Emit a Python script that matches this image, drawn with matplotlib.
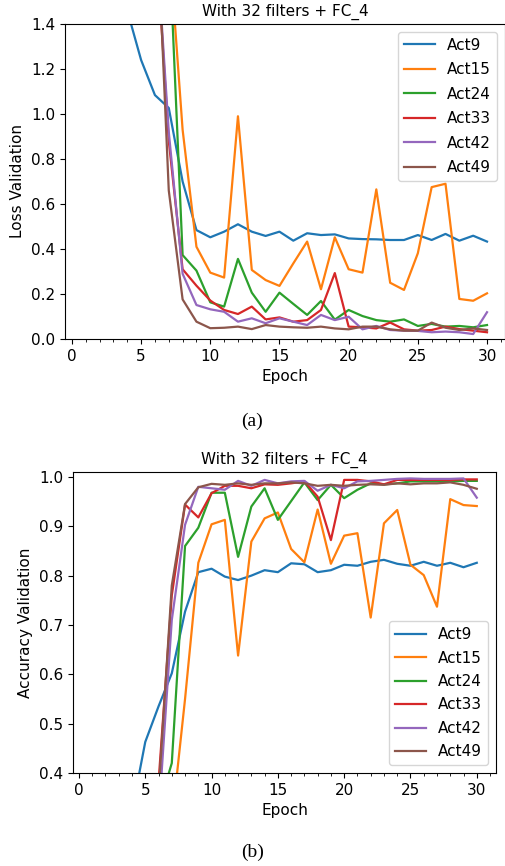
import matplotlib
matplotlib.use("Agg")
import matplotlib.pyplot as plt
from matplotlib.ticker import MultipleLocator

epochs = list(range(1, 31))
series_names = ["Act9", "Act15", "Act24", "Act33", "Act42", "Act49"]
title_text = "With 32 filters + FC_4"

loss_act9 = [1.90, 1.75, 1.60, 1.46, 1.24, 1.084, 1.027, 0.70, 0.484, 0.452,
             0.477, 0.51, 0.477, 0.458, 0.477, 0.437, 0.47, 0.462, 0.465, 0.447,
             0.444, 0.443, 0.44, 0.44, 0.462, 0.44, 0.467, 0.437, 0.459, 0.433]
loss_act15 = [2.3, 2.2, 2.1, 2.0, 1.95, 1.9, 1.78, 0.93, 0.41, 0.295,
              0.273, 0.99, 0.307, 0.262, 0.236, 0.336, 0.433, 0.221, 0.452, 0.31,
              0.295, 0.665, 0.25, 0.218, 0.381, 0.675, 0.69, 0.178, 0.17, 0.203]
loss_act24 = [2.2, 2.1, 2.05, 2.0, 1.95, 1.9, 1.80, 0.373, 0.304, 0.163,
              0.144, 0.356, 0.206, 0.121, 0.206, 0.156, 0.107, 0.169, 0.086, 0.129,
              0.102, 0.084, 0.077, 0.087, 0.058, 0.067, 0.055, 0.058, 0.052, 0.062]
loss_act33 = [2.2, 2.1, 2.05, 2.0, 1.95, 1.85, 0.88, 0.31, 0.237, 0.171,
              0.129, 0.111, 0.144, 0.087, 0.096, 0.077, 0.084, 0.129, 0.293, 0.055,
              0.052, 0.047, 0.073, 0.043, 0.037, 0.04, 0.055, 0.044, 0.037, 0.03]
loss_act42 = [2.2, 2.1, 2.05, 2.0, 1.95, 1.87, 0.92, 0.29, 0.151, 0.132,
              0.121, 0.077, 0.092, 0.07, 0.092, 0.077, 0.062, 0.107, 0.084, 0.099,
              0.043, 0.058, 0.04, 0.037, 0.036, 0.03, 0.033, 0.03, 0.022, 0.119]
loss_act49 = [2.3, 2.25, 2.2, 2.15, 2.1, 2.08, 0.66, 0.176, 0.077, 0.048,
              0.05, 0.055, 0.044, 0.062, 0.055, 0.052, 0.05, 0.055, 0.047, 0.043,
              0.055, 0.055, 0.043, 0.037, 0.037, 0.073, 0.05, 0.04, 0.047, 0.04]

acc_act9 = [0.25, 0.27, 0.30, 0.323, 0.463, 0.535, 0.602, 0.727, 0.807, 0.814,
            0.798, 0.791, 0.80, 0.811, 0.807, 0.825, 0.823, 0.807, 0.811, 0.822,
            0.82, 0.828, 0.832, 0.824, 0.82, 0.828, 0.82, 0.826, 0.817, 0.826]
acc_act15 = [0.2, 0.2, 0.2, 0.2, 0.2, 0.22, 0.30, 0.55, 0.826, 0.904,
             0.913, 0.638, 0.869, 0.916, 0.928, 0.854, 0.827, 0.934, 0.824, 0.881,
             0.886, 0.715, 0.906, 0.933, 0.822, 0.801, 0.737, 0.955, 0.943, 0.941]
acc_act24 = [0.2, 0.2, 0.2, 0.2, 0.25, 0.329, 0.42, 0.86, 0.897, 0.968,
             0.968, 0.838, 0.94, 0.977, 0.913, 0.951, 0.989, 0.953, 0.984, 0.957,
             0.974, 0.987, 0.985, 0.987, 0.991, 0.991, 0.991, 0.991, 0.992, 0.992]
acc_act33 = [0.2, 0.2, 0.2, 0.2, 0.25, 0.381, 0.76, 0.944, 0.918, 0.967,
             0.982, 0.982, 0.977, 0.985, 0.984, 0.987, 0.991, 0.96, 0.872, 0.994,
             0.994, 0.991, 0.985, 0.994, 0.994, 0.994, 0.994, 0.994, 0.995, 0.995]
acc_act42 = [0.2, 0.2, 0.2, 0.2, 0.25, 0.307, 0.71, 0.903, 0.98, 0.977,
             0.974, 0.992, 0.982, 0.994, 0.987, 0.991, 0.992, 0.972, 0.984, 0.977,
             0.991, 0.992, 0.994, 0.996, 0.997, 0.996, 0.996, 0.996, 0.997, 0.958]
acc_act49 = [0.2, 0.2, 0.2, 0.2, 0.25, 0.358, 0.78, 0.945, 0.979, 0.986,
             0.984, 0.987, 0.984, 0.987, 0.987, 0.989, 0.987, 0.982, 0.984, 0.982,
             0.984, 0.985, 0.984, 0.987, 0.985, 0.987, 0.987, 0.989, 0.984, 0.976]

loss_series = [loss_act9, loss_act15, loss_act24, loss_act33, loss_act42, loss_act49]
acc_series = [acc_act9, acc_act15, acc_act24, acc_act33, acc_act42, acc_act49]
colors = ["#1f77b4", "#ff7f0e", "#2ca02c", "#d62728", "#9467bd", "#8c564b"]

plt.rcParams["font.family"] = ["DejaVu Sans"]
plt.rcParams["font.size"] = 11

fig = plt.figure(figsize=(5.05, 8.66), dpi=100)

ax1 = fig.add_axes([65 / 505, 1 - 339 / 866, 440 / 505, 315 / 866])
for name, vals, c in zip(series_names, loss_series, colors):
    ax1.plot(epochs, vals, color=c, label=name, linewidth=1.6)
ax1.set_ylim(0, 1.4)
ax1.set_xlim(-0.5, 31.3)
ax1.set_title(title_text, fontsize=11)
ax1.set_xlabel("Epoch", fontsize=11)
ax1.set_ylabel("Loss Validation", fontsize=11)
ax1.xaxis.set_major_locator(MultipleLocator(5))
ax1.xaxis.set_minor_locator(MultipleLocator(1))
ax1.tick_params(labelsize=11)
ax1.legend(loc="upper right", fontsize=11, labelspacing=0.62)

ax2 = fig.add_axes([73 / 505, 1 - 773 / 866, 423 / 505, 301 / 866])
for name, vals, c in zip(series_names, acc_series, colors):
    ax2.plot(epochs, vals, color=c, label=name, linewidth=1.6)
ax2.set_ylim(0.4, 1.01)
ax2.set_title(title_text, fontsize=11)
ax2.set_xlabel("Epoch", fontsize=11)
ax2.set_ylabel("Accuracy Validation", fontsize=11)
ax2.xaxis.set_major_locator(MultipleLocator(5))
ax2.xaxis.set_minor_locator(MultipleLocator(1))
ax2.tick_params(labelsize=11)
ax2.legend(loc="lower right", fontsize=11, labelspacing=0.55)

fig.text(0.5, 1 - 421 / 866, "(a)", ha="center", va="center",
         family="Liberation Serif", fontsize=14)
fig.text(0.5, 1 - 852 / 866, "(b)", ha="center", va="center",
         family="Liberation Serif", fontsize=14)

fig.savefig("out.png", dpi=100)
